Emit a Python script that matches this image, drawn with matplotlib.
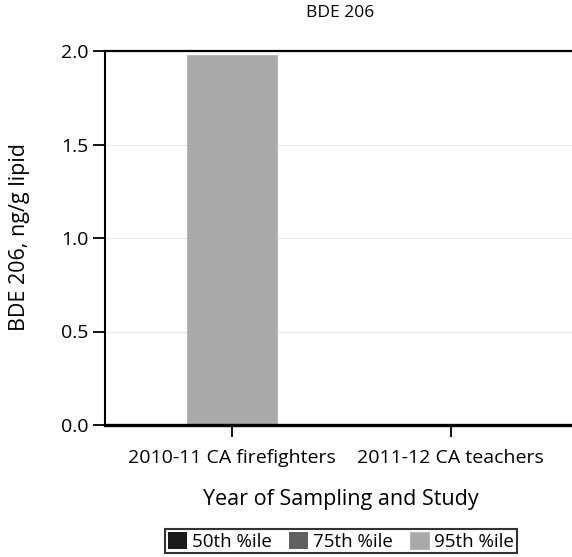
import matplotlib
matplotlib.use("Agg")
import matplotlib.pyplot as plt
import numpy as np

categories = ["2010-11 CA firefighters", "2011-12 CA teachers"]
series_names = ["50th %ile", "75th %ile", "95th %ile"]
p50 = [0.0, 0.0]
p75 = [0.0, 0.0]
p95 = [1.98, 0.0]
colors = ["#1a1a1a", "#606060", "#a9a9a9"]
yticks = [0.0, 0.5, 1.0, 1.5, 2.0]

plt.rcParams['font.family'] = ['Open Sans', 'DejaVu Sans']
fig = plt.figure(figsize=(5.72, 5.57), dpi=100)
L, T, B = 105, 51, 425
ax = fig.add_axes([L/572, 1-B/557, 1-L/572, (B-T)/557])

x = np.arange(len(categories))
w = 0.41
# drawn back to front (95th behind)
ax.bar(x, p95, w, color=colors[2], edgecolor="#b8b8b8", linewidth=0.8, label=series_names[2], zorder=2)
ax.bar(x, p75, w, color=colors[1], label=series_names[1], zorder=3)
ax.bar(x, p50, w, color=colors[0], label=series_names[0], zorder=4)

ax.set_xlim(-0.581, 1.555)
ax.set_ylim(0, 2.0)
ax.set_yticks(yticks)
ax.set_yticklabels([f"{v:.1f}" for v in yticks], fontsize=14)
ax.set_xticks(x)
ax.set_xticklabels(categories, fontsize=14)
ax.yaxis.grid(True, color="#e6e6e6", linewidth=0.8, zorder=0)
ax.set_axisbelow(True)
ax.spines['right'].set_visible(False)
ax.spines['top'].set_linewidth(1.6)
ax.spines['left'].set_linewidth(1.5)
ax.spines['bottom'].set_linewidth(2.4)
ax.tick_params(axis='y', length=8.5, width=1.3, pad=3.5)
ax.tick_params(axis='x', length=8.5, width=1.3, pad=9)

fig.text(340/572, 1-13/557, "BDE 206", ha="center", va="center", fontsize=12.5)
fig.text(20/572, 1-237/557, "BDE 206, ng/g lipid", ha="center", va="center", rotation=90, fontsize=15.5)
fig.text(341/572, 1-500/557, "Year of Sampling and Study", ha="center", va="center", fontsize=15.5)

h, l = ax.get_legend_handles_labels()
order = [2, 1, 0]
leg = fig.legend([h[i] for i in order], [l[i] for i in order], loc="upper center",
                 bbox_to_anchor=(341/572, 1-529/557), ncol=3, fontsize=13.5,
                 frameon=True, fancybox=False, handlelength=1.0, handleheight=1.0,
                 handletextpad=0.3, columnspacing=0.9, borderpad=0.15, borderaxespad=0)
leg.get_frame().set_edgecolor("black")
leg.get_frame().set_linewidth(1.5)

fig.savefig("out.png", dpi=100)
